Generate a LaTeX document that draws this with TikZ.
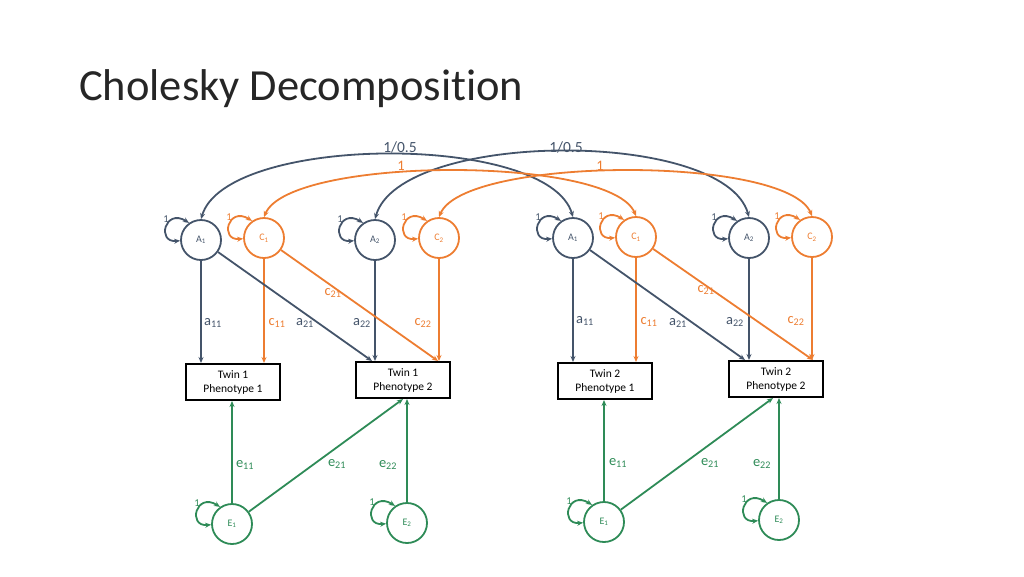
\documentclass[tikz,border=0pt]{standalone}
\usepackage{fontspec}
\setmainfont{Carlito}[Ligatures={NoCommon}]
\usetikzlibrary{arrows.meta}
\definecolor{dk}{HTML}{44546A}
\definecolor{org}{HTML}{ED7D31}
\definecolor{grn}{HTML}{2E8B57}
\tikzset{
  tip/.tip={Stealth[length=6pt,width=5pt]},
  circ/.style={circle,draw,line width=1.8pt,minimum size=40pt,inner sep=0pt,font=\fontsize{10}{12}\selectfont},
  pbox/.style={draw=black,line width=2pt,minimum width=94pt,minimum height=36pt,align=center,inner sep=1pt,font=\fontsize{11.5}{14}\selectfont},
  path/.style={line width=1.8pt,-tip},
  dbl/.style={line width=1.8pt,tip-tip},
  lbl/.style={font=\fontsize{14.5}{16}\selectfont,inner sep=0pt},
  loopl/.style={font=\fontsize{10.5}{12}\selectfont,inner sep=0pt},
}
\newcommand{\selfloop}[2]{\draw[dbl,#2] (#1.125) .. controls +(-24,-15) and +(-24,2) .. (#1.182);}
\begin{document}
\begin{tikzpicture}[x=1pt,y=-1pt]
\path[use as bounding box] (0,0) rectangle (1024,576);
\node[anchor=base west,inner sep=0pt,font=\fontsize{44.5}{48}\selectfont,text=black!85] (title) at (79,100) {Cholesky Decomposition};

% latent circles twin 1
\node[circ,dk] (A1) at (201,240) {A\textsubscript{1}};
\node[circ,org] (C1) at (264,238) {C\textsubscript{1}};
\node[circ,dk] (A2) at (375,240) {A\textsubscript{2}};
\node[circ,org] (C2) at (439,238) {C\textsubscript{2}};
% twin 2
\node[circ,dk] (B1) at (573,238) {A\textsubscript{1}};
\node[circ,org] (D1) at (636,237) {C\textsubscript{1}};
\node[circ,dk] (B2) at (749,238) {A\textsubscript{2}};
\node[circ,org] (D2) at (812,237) {C\textsubscript{2}};
% E circles
\node[circ,grn] (E1) at (232,524) {E\textsubscript{1}};
\node[circ,grn] (E2) at (407,523) {E\textsubscript{2}};
\node[circ,grn] (F1) at (604,522) {E\textsubscript{1}};
\node[circ,grn] (F2) at (779,520) {E\textsubscript{2}};

% phenotype boxes
\node[pbox] (P1) at (233,382) {Twin 1\\Phenotype 1};
\node[pbox] (P2) at (403,380) {Twin 1\\Phenotype 2};
\node[pbox] (Q1) at (605,381) {Twin 2\\Phenotype 1};
\node[pbox] (Q2) at (776,379) {Twin 2\\Phenotype 2};

% self loops
\selfloop{A1}{dk} \selfloop{C1}{org} \selfloop{A2}{dk} \selfloop{C2}{org}
\selfloop{B1}{dk} \selfloop{D1}{org} \selfloop{B2}{dk} \selfloop{D2}{org}
\selfloop{E1}{grn} \selfloop{E2}{grn} \selfloop{F1}{grn} \selfloop{F2}{grn}
\foreach \n/\c in {A1/dk,C1/org,A2/dk,C2/org,B1/dk,D1/org,B2/dk,D2/org,E1/grn,E2/grn,F1/grn,F2/grn}{
  \node[loopl,text=\c] at ([xshift=-35pt,yshift=21pt]\n.center) {1};
}

% cross-twin covariances
\draw[dbl,dk] (A1.north) .. controls +(25,-85) and +(-25,-85) .. (B1.north);
\draw[dbl,dk] (A2.north) .. controls +(25,-89) and +(-25,-89) .. (B2.north);
\draw[dbl,org] (C1.north) .. controls +(25,-61) and +(-25,-61) .. (D1.north);
\draw[dbl,org] (C2.north) .. controls +(25,-61) and +(-25,-61) .. (D2.north);
\node[lbl,dk,font=\fontsize{15.5}{17}\selectfont] (cov1) at (400,147) {1/0.5};
\node[lbl,dk,font=\fontsize{15.5}{17}\selectfont] (cov2) at (566,147) {1/0.5};
\node[lbl,org] (cc1) at (401,166) {1};
\node[lbl,org] (cc2) at (600,166) {1};

% twin 1 paths
\draw[path,dk] (A1) -- (A1 |- P1.north);
\draw[path,org] (C1) -- (C1 |- P1.north);
\draw[path,dk] (A1) -- ([xshift=-31pt]P2.north);
\draw[path,dk] (A2) -- (A2 |- P2.north);
\draw[path,org] (C1) -- ([xshift=35pt]P2.north);
\draw[path,org] (C2) -- (C2 |- P2.north);
\draw[path,grn] (E1) -- (E1 |- P1.south);
\draw[path,grn] (E1) -- (P2.south);
\draw[path,grn] (E2) -- (E2 |- P2.south);
% twin 2 paths
\draw[path,dk] (B1) -- (B1 |- Q1.north);
\draw[path,org] (D1) -- (D1 |- Q1.north);
\draw[path,dk] (B1) -- ([xshift=-31pt]Q2.north);
\draw[path,dk] (B2) -- (B2 |- Q2.north);
\draw[path,org] (D1) -- ([xshift=37pt]Q2.north);
\draw[path,org] (D2) -- (D2 |- Q2.north);
\draw[path,grn] (F1) -- (F1 |- Q1.south);
\draw[path,grn] (F1) -- ([xshift=-3pt]Q2.south);
\draw[path,grn] (F2) -- (F2 |- Q2.south);

% path labels twin 1
\node[lbl,dk] at (213,323) {a\textsubscript{11}};
\node[lbl,org] at (277,323) {c\textsubscript{11}};
\node[lbl,dk] at (305,323) {a\textsubscript{21}};
\node[lbl,dk] at (362,323) {a\textsubscript{22}};
\node[lbl,org] at (423,323) {c\textsubscript{22}};
\node[lbl,org] at (333,293) {c\textsubscript{21}};
\node[lbl,grn] at (245,465) {e\textsubscript{11}};
\node[lbl,grn] at (337,464) {e\textsubscript{21}};
\node[lbl,grn] at (388,465) {e\textsubscript{22}};
% path labels twin 2
\node[lbl,dk] at (585,321) {a\textsubscript{11}};
\node[lbl,org] at (649,322) {c\textsubscript{11}};
\node[lbl,dk] at (678,323) {a\textsubscript{21}};
\node[lbl,dk] at (735,322) {a\textsubscript{22}};
\node[lbl,org] at (796,321) {c\textsubscript{22}};
\node[lbl,org] at (706,290) {c\textsubscript{21}};
\node[lbl,grn] at (618,463) {e\textsubscript{11}};
\node[lbl,grn] at (710,463) {e\textsubscript{21}};
\node[lbl,grn] at (762,464) {e\textsubscript{22}};
\end{tikzpicture}
\end{document}
